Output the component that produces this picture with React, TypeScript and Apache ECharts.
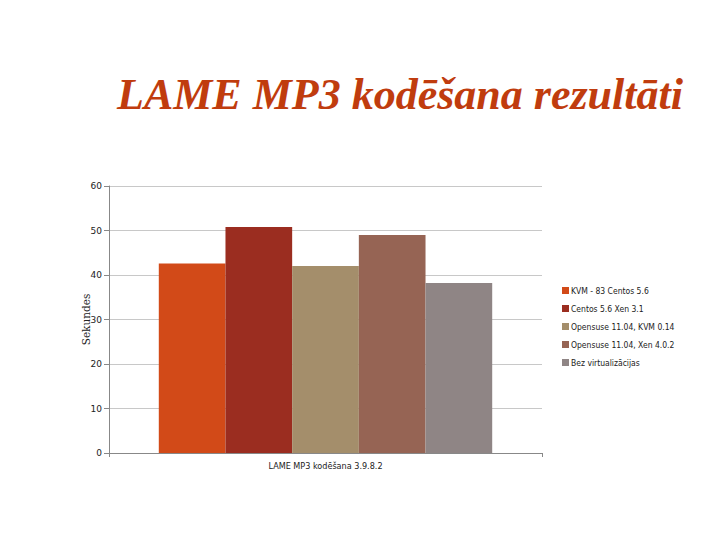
import React, { useEffect, useRef } from 'react';
import * as echarts from 'echarts';

const categories = ['LAME MP3 kodēšana 3.9.8.2'];
const seriesNames = [
  'KVM - 83 Centos 5.6',
  'Centos 5.6 Xen 3.1',
  'Opensuse 11.04, KVM 0.14',
  'Opensuse 11.04, Xen 4.0.2',
  'Bez virtualizācijas',
];
const seriesValues = [42.6, 50.8, 42.0, 49.0, 38.2];
const seriesColors = ['#d24a18', '#9b2d20', '#a48e6b', '#966454', '#8f8585'];

const App = () => {
  const chartRef = useRef(null);

  useEffect(() => {
    document.body.style.margin = '0';
    const myChart = echarts.init(chartRef.current, null, { renderer: 'svg' });

    const option = {
      animation: false,
      backgroundColor: '#ffffff',
      title: {
        text: 'LAME MP3 kodēšana rezultāti',
        left: 395,
        top: 67,
        textAlign: 'center',
        textStyle: {
          fontFamily: 'Liberation Serif',
          fontStyle: 'italic',
          fontWeight: 'bold',
          fontSize: 44,
          color: '#c03c0e',
        },
      },
      legend: {
        orient: 'vertical',
        left: 557,
        top: 281,
        itemWidth: 7,
        itemHeight: 7,
        itemGap: 9,
        icon: 'rect',
        textStyle: {
          fontFamily: 'DejaVu Sans Condensed',
          fontSize: 8.5,
          lineHeight: 9,
          color: '#222',
          padding: [0, 0, 0, -3],
        },
        data: seriesNames,
      },
      grid: { left: 109, right: 178, top: 186, bottom: 87 },
      xAxis: {
        type: 'category',
        data: categories,
        axisLine: { lineStyle: { color: '#888' } },
        axisTick: { show: true, length: 4, lineStyle: { color: '#888' } },
        axisLabel: { fontFamily: 'DejaVu Sans Condensed', fontSize: 9, color: '#222', margin: 8 },
      },
      yAxis: {
        type: 'value',
        min: 0,
        max: 60,
        interval: 10,
        name: 'Sekundes',
        nameLocation: 'middle',
        nameGap: 18,
        nameMoveOverlap: false,
        nameTextStyle: { fontFamily: 'DejaVu Serif', fontSize: 10.5, color: '#222' },
        axisLine: { show: true, lineStyle: { color: '#888' } },
        axisTick: { show: true, length: 5, lineStyle: { color: '#888' } },
        axisLabel: { fontFamily: 'DejaVu Sans', fontSize: 9, color: '#222', margin: 7 },
        splitLine: { lineStyle: { color: '#c8c8c8' } },
      },
      series: seriesNames.map((name, i) => ({
        name,
        type: 'bar',
        data: [seriesValues[i]],
        barGap: '0%',
        barCategoryGap: '23%',
        itemStyle: { color: seriesColors[i] },
      })),
    };

    myChart.setOption(option);

    return () => {
      myChart.dispose();
    };
  }, []);

  return <div ref={chartRef} style={{ width: '720px', height: '540px' }} />;
};

export default App;
